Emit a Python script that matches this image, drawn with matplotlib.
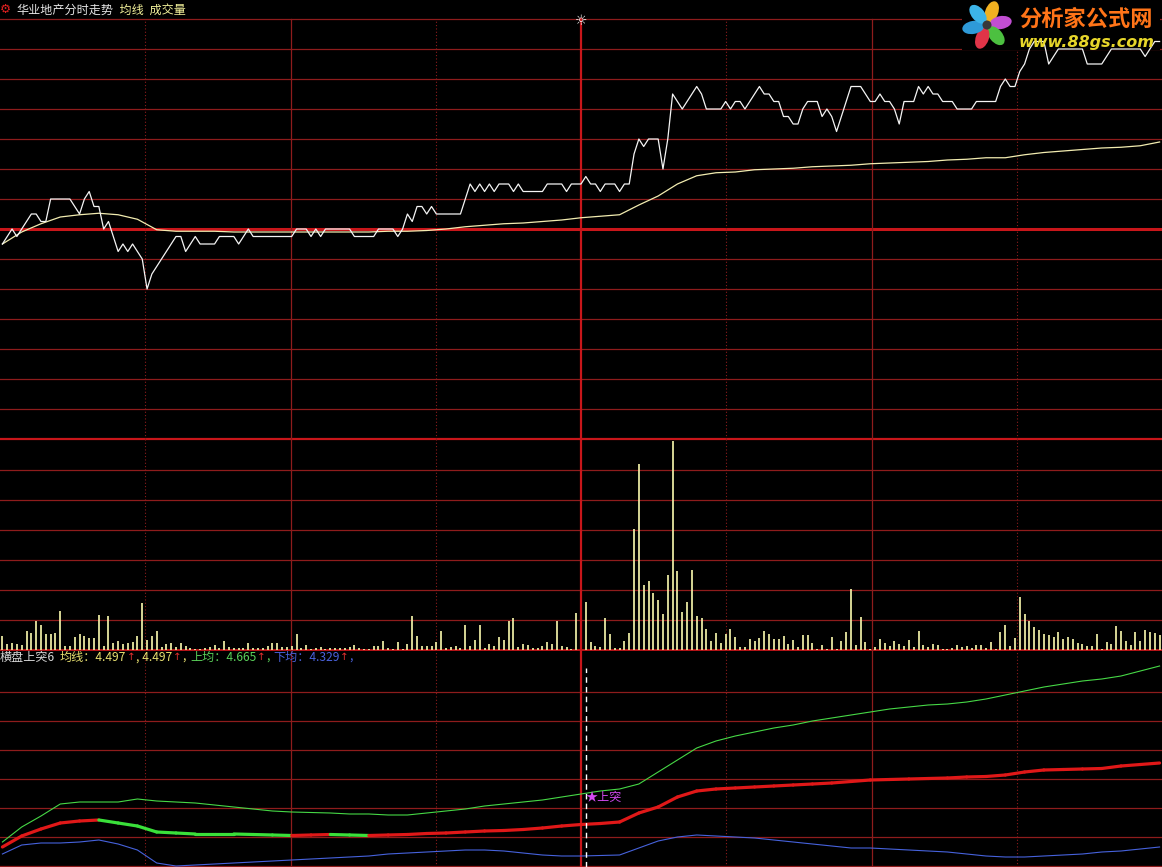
import matplotlib
matplotlib.use('Agg')
import matplotlib.pyplot as plt
from matplotlib.patches import Rectangle, Ellipse, Circle
from matplotlib.collections import LineCollection
import numpy as np

plt.rcParams['font.family'] = ['Noto Sans CJK SC', 'DejaVu Sans']

W, H = 1162, 867

# ---------------- data ----------------
stock_name = "华业地产"
prev_close = 4.38
price_lo, price_hi = 4.10, 4.66

price = [
    4.36, 4.37, 4.38, 4.37, 4.38, 4.39, 4.40, 4.40, 4.39, 4.39,
    4.42, 4.42, 4.42, 4.42, 4.42, 4.41, 4.40, 4.42, 4.43, 4.41,
    4.41, 4.38, 4.39, 4.37, 4.35, 4.36, 4.35, 4.36, 4.35, 4.34,
    4.30, 4.32, 4.33, 4.34, 4.35, 4.36, 4.37, 4.37, 4.35, 4.36,
    4.37, 4.36, 4.36, 4.36, 4.36, 4.37, 4.37, 4.37, 4.37, 4.36,
    4.37, 4.38, 4.37, 4.37, 4.37, 4.37, 4.37, 4.37, 4.37, 4.37,
    4.37, 4.38, 4.38, 4.38, 4.37, 4.38, 4.37, 4.38, 4.38, 4.38,
    4.38, 4.38, 4.38, 4.37, 4.37, 4.37, 4.37, 4.37, 4.38, 4.38,
    4.38, 4.38, 4.37, 4.38, 4.40, 4.39, 4.41, 4.41, 4.40, 4.41,
    4.40, 4.40, 4.40, 4.40, 4.40, 4.40, 4.42, 4.44, 4.43, 4.44,
    4.43, 4.44, 4.43, 4.44, 4.44, 4.44, 4.43, 4.44, 4.43, 4.43,
    4.43, 4.43, 4.43, 4.44, 4.44, 4.44, 4.44, 4.43, 4.44, 4.44,
    4.44, 4.45, 4.44, 4.44, 4.43, 4.44, 4.44, 4.44, 4.43, 4.44,
    4.44, 4.48, 4.50, 4.49, 4.50, 4.50, 4.50, 4.46, 4.50, 4.56,
    4.55, 4.54, 4.55, 4.56, 4.57, 4.56, 4.54, 4.54, 4.54, 4.54,
    4.55, 4.54, 4.55, 4.55, 4.54, 4.55, 4.56, 4.57, 4.56, 4.56,
    4.55, 4.55, 4.53, 4.53, 4.52, 4.52, 4.54, 4.55, 4.55, 4.55,
    4.53, 4.54, 4.53, 4.51, 4.53, 4.55, 4.57, 4.57, 4.57, 4.56,
    4.55, 4.55, 4.56, 4.55, 4.55, 4.54, 4.52, 4.55, 4.55, 4.55,
    4.57, 4.56, 4.57, 4.56, 4.56, 4.55, 4.55, 4.55, 4.54, 4.54,
    4.54, 4.54, 4.55, 4.55, 4.55, 4.55, 4.55, 4.57, 4.58, 4.57,
    4.57, 4.59, 4.60, 4.62, 4.63, 4.63, 4.63, 4.60, 4.61, 4.62,
    4.62, 4.62, 4.62, 4.62, 4.62, 4.60, 4.60, 4.60, 4.60, 4.61,
    4.62, 4.62, 4.62, 4.62, 4.62, 4.62, 4.62, 4.61, 4.62, 4.63,
    4.63,
]

avg_minutes = list(range(0, 241, 4))
avg_price = [
    4.360, 4.376, 4.387, 4.396, 4.399, 4.401, 4.399, 4.393, 4.379, 4.377,
    4.377, 4.377, 4.376, 4.376, 4.376, 4.376, 4.376, 4.376, 4.376, 4.376,
    4.377, 4.377, 4.378, 4.380, 4.383, 4.385, 4.387, 4.388, 4.390, 4.392,
    4.395, 4.397, 4.399, 4.412, 4.424, 4.440, 4.451, 4.455, 4.456, 4.459,
    4.460, 4.461, 4.463, 4.464, 4.465, 4.467, 4.468, 4.469, 4.470, 4.472,
    4.473, 4.475, 4.475, 4.479, 4.482, 4.484, 4.486, 4.488, 4.489, 4.491,
    4.496,
]

volume = [
    14, 6, 7, 6, 5, 19, 17, 29, 25, 16,
    16, 17, 39, 4, 4, 13, 16, 14, 12, 12,
    35, 4, 34, 7, 9, 6, 7, 8, 14, 47,
    10, 14, 19, 3, 6, 7, 3, 7, 4, 2,
    1, 1, 2, 3, 5, 2, 9, 3, 2, 2,
    2, 7, 2, 2, 2, 4, 7, 7, 3, 3,
    4, 16, 2, 5, 1, 2, 3, 1, 2, 2,
    2, 2, 3, 5, 2, 1, 1, 4, 4, 9,
    2, 1, 8, 1, 6, 34, 14, 4, 4, 4,
    8, 19, 2, 3, 4, 2, 25, 4, 10, 25,
    2, 6, 4, 13, 10, 29, 32, 3, 6, 5,
    2, 2, 4, 8, 6, 29, 4, 3, 1, 37,
    1, 48, 8, 4, 3, 32, 16, 2, 2, 9,
    17, 121, 186, 65, 69, 57, 50, 36, 75, 209,
    79, 38, 48, 80, 34, 32, 21, 9, 17, 7,
    16, 21, 13, 3, 3, 11, 9, 12, 19, 16,
    11, 11, 14, 6, 10, 3, 15, 15, 7, 1,
    5, 1, 13, 1, 9, 18, 61, 5, 33, 8,
    1, 3, 11, 7, 4, 9, 6, 4, 10, 3,
    19, 5, 3, 6, 5, 1, 1, 2, 5, 3,
    4, 2, 5, 5, 2, 8, 1, 18, 25, 4,
    12, 53, 36, 29, 23, 20, 16, 15, 13, 18,
    11, 13, 11, 7, 6, 4, 4, 16, 1, 8,
    6, 24, 19, 9, 5, 18, 9, 20, 18, 17,
    15,
]
volume_max = 211

lower_minutes = list(range(0, 241, 4))
upper_band = [
    4.339, 4.369, 4.391, 4.415, 4.419, 4.419, 4.419, 4.425, 4.421, 4.419,
    4.417, 4.413, 4.409, 4.405, 4.401, 4.399, 4.398, 4.397, 4.395, 4.395,
    4.393, 4.393, 4.397, 4.401, 4.405, 4.411, 4.415, 4.419, 4.423, 4.429,
    4.435, 4.441, 4.445, 4.455, 4.479, 4.503, 4.527, 4.541, 4.551, 4.559,
    4.567, 4.573, 4.581, 4.587, 4.593, 4.599, 4.605, 4.609, 4.613, 4.615,
    4.619, 4.625, 4.633, 4.641, 4.649, 4.655, 4.661, 4.665, 4.671, 4.681,
    4.691,
]
mid_line = [
    4.329, 4.351, 4.365, 4.377, 4.381, 4.383, 4.377, 4.371, 4.359, 4.357,
    4.355, 4.355, 4.355, 4.354, 4.353, 4.352, 4.353, 4.354, 4.353, 4.352,
    4.353, 4.354, 4.356, 4.357, 4.359, 4.361, 4.362, 4.364, 4.367, 4.371,
    4.374, 4.376, 4.379, 4.397, 4.409, 4.429, 4.441, 4.445, 4.447, 4.449,
    4.451, 4.453, 4.455, 4.457, 4.460, 4.463, 4.464, 4.465, 4.466, 4.467,
    4.469, 4.470, 4.473, 4.479, 4.483, 4.484, 4.485, 4.486, 4.491, 4.494,
    4.497,
]
lower_band = [
    4.315, 4.333, 4.337, 4.337, 4.339, 4.343, 4.335, 4.323, 4.297, 4.291,
    4.293, 4.295, 4.297, 4.299, 4.301, 4.303, 4.305, 4.307, 4.309, 4.311,
    4.315, 4.317, 4.319, 4.321, 4.323, 4.323, 4.321, 4.317, 4.313, 4.311,
    4.311, 4.312, 4.313, 4.327, 4.341, 4.349, 4.353, 4.351, 4.349, 4.347,
    4.343, 4.339, 4.335, 4.331, 4.327, 4.327, 4.325, 4.323, 4.321, 4.319,
    4.315, 4.311, 4.309, 4.309, 4.311, 4.313, 4.315, 4.319, 4.321, 4.325,
    4.329,
]
lower_lo, lower_hi = 4.289, 4.723
signal_idx = 121
signal_val = 4.427
label_values = ["4.497", "4.497", "4.665", "4.329"]

# ---------------- style ----------------
BG = 'black'
GRID = '#8e1c1c'
GRID_BRIGHT = '#c8161a'
WHITE = '#f4f4f4'
AVG = '#f2ecb0'
VOL = '#f2f0a8'
GREEN_THIN = '#46d846'
BLUE = '#4662dc'
RED_THICK = '#e01818'
GREEN_THICK = '#3ae03a'

fig = plt.figure(figsize=(W / 100, H / 100), dpi=100, facecolor=BG)


def px_axes(top, bottom):
    ax = fig.add_axes([0, 1 - bottom / H, 1, (bottom - top) / H])
    ax.set_facecolor(BG)
    ax.set_xlim(-0.5, 240.5)
    ax.set_axis_off()
    return ax


def vgrid(ax):
    for k in range(1, 8):
        f = k / 8
        if k == 4:
            ax.plot([f, f], [0, 1], transform=ax.transAxes, color=GRID_BRIGHT, lw=1.6, zorder=1, clip_on=False)
        elif k % 2 == 0:
            ax.plot([f, f], [0, 1], transform=ax.transAxes, color=GRID, lw=0.9, zorder=1, clip_on=False)
        else:
            ax.plot([f, f], [0, 1], transform=ax.transAxes, color=GRID, lw=0.8, ls=(0, (1, 2)), zorder=1, clip_on=False)


# ---- price panel ----
ax1 = px_axes(19, 439)
ax1.set_ylim(price_lo, price_hi)
for k in range(15):
    y = price_lo + 0.04 * k
    if k == 7:
        ax1.axhline(y, color=GRID_BRIGHT, lw=2.2, zorder=1, clip_on=False)
    elif k == 0:
        ax1.axhline(y, color=GRID_BRIGHT, lw=1.6, zorder=1, clip_on=False)
    else:
        ax1.axhline(y, color=GRID, lw=0.9, zorder=1, clip_on=False)
vgrid(ax1)
# black backing of logo (hides grid only)
ax1.add_patch(Rectangle((962 / W, 1 - 50 / H), 198 / W, 50 / H, transform=fig.transFigure,
                        facecolor=BG, edgecolor='none', zorder=1.5, clip_on=False))
ax1.plot(range(len(price)), price, color=WHITE, lw=0.9, zorder=3, clip_on=False)
ax1.plot(avg_minutes, avg_price, color=AVG, lw=0.9, zorder=2.5)

# ---- volume panel ----
ax2 = px_axes(439, 650)
ax2.set_ylim(0, volume_max)
for y in range(30, 181, 30):
    ax2.axhline(y, color=GRID, lw=0.9, zorder=1)
ax2.axhline(0, color=GRID_BRIGHT, lw=1.3, zorder=1, clip_on=False)
vgrid(ax2)
ax2.vlines(range(len(volume)), 0, volume, color=VOL, lw=1.25, zorder=3)

# ---- indicator panel ----
ax3 = px_axes(650, 867)
ax3.set_ylim(lower_lo, lower_hi)
for ypx in [692, 721, 750, 779, 808, 837, 866]:
    f = (867 - ypx) / 217
    ax3.plot([0, 1], [f, f], transform=ax3.transAxes, color=GRID, lw=0.9, zorder=1)
vgrid(ax3)
ax3.plot(lower_minutes, upper_band, color=GREEN_THIN, lw=0.8, zorder=3)
ax3.plot(lower_minutes, lower_band, color=BLUE, lw=0.8, zorder=3)
pts = np.column_stack([lower_minutes, mid_line])
segs, cols = [], []
cur = RED_THICK
for i in range(len(pts) - 1):
    if mid_line[i + 1] > mid_line[i]:
        cur = RED_THICK
    elif mid_line[i + 1] < mid_line[i]:
        cur = GREEN_THICK
    segs.append(pts[i:i + 2])
    cols.append(cur)
ax3.add_collection(LineCollection(segs, colors=cols, linewidths=2.3, zorder=3, capstyle='round'))
ax3.axvline(signal_idx, ymin=0, ymax=(867 - 668) / 217, color='white', lw=1.0, ls=(0, (4, 3)), zorder=4)
ax3.text(signal_idx, signal_val, '★上突', color='#d24af0', fontsize=8.7, va='center', ha='left', zorder=5)


# ---------------- texts ----------------
FS = 8.7
renderer = fig.canvas.get_renderer()


def ftext(x, y, s, **kw):
    return fig.text(x / W, 1 - y / H, s, va='center', ha='left', **kw)


def seq_text(x0, y, pieces):
    x = x0
    for s, c, kw in pieces:
        opts = dict(fontsize=FS)
        opts.update(kw)
        t = ftext(x, y, s, color=c, **opts)
        bb = t.get_window_extent(renderer=renderer)
        x = bb.x1 + 0.5
    return x


ftext(0, 9, '⚙', color='#e02020', fontsize=9, family='DejaVu Sans')
seq_text(16, 10, [(stock_name + '分时走势', '#e6e6e6', {}),
                  ('  均线', '#f2f09a', {}),
                  ('  成交量', '#f2f09a', {})])
fig.text(581 / W, 1 - 21 / H, '☼', color='white', fontsize=10, family='DejaVu Sans', ha='center', va='center')

YL = 657
YEL = '#e8e070'
RED_ARROW = '#e03030'
GREEN_TXT = '#5ad05a'
BLUE_TXT = '#4a62dc'
AR = {'family': 'DejaVu Sans', 'fontsize': 7.5}
seq_text(0, YL, [('横盘上突6', '#d8d8d8', {})])
seq_text(60, YL, [('均线：' + label_values[0], YEL, {}), ('↑', RED_ARROW, AR),
                  (', ' + label_values[1], YEL, {}), ('↑', RED_ARROW, AR), (',', YEL, {})])
seq_text(190, YL, [('上均：' + label_values[2], GREEN_TXT, {}), ('↑', RED_ARROW, AR), (',', GREEN_TXT, {})])
seq_text(273, YL, [('下均：' + label_values[3], BLUE_TXT, {}), ('↑', RED_ARROW, AR), (',', BLUE_TXT, {})])

# ---------------- logo ----------------
axl = fig.add_axes([0, 0, 1, 1], zorder=10)
axl.set_xlim(0, W)
axl.set_ylim(H, 0)
axl.set_axis_off()
axl.patch.set_alpha(0)
cx, cy = 987, 25
petal_cols = ['#f0b020', '#c24ed2', '#4cc040', '#e03448', '#2e9ad8', '#3cb4e8']
for j, c in enumerate(petal_cols):
    a = np.deg2rad(-70 + 60 * j)
    axl.add_patch(Ellipse((cx + 14 * np.cos(a), cy + 14 * np.sin(a)), 22, 13,
                          angle=np.rad2deg(a), facecolor=c, edgecolor='none'))
axl.add_patch(Circle((cx, cy), 4.5, facecolor='#383838', edgecolor='none'))
axl.text(1019, 19, '分析家公式网', color='#ff7418', fontsize=16, fontweight='bold', va='center', ha='left')
axl.text(1019, 43, 'www.88gs.com', color='#e6d62a', fontsize=11.5, fontweight='bold', style='italic',
         va='center', ha='left', family='DejaVu Sans')

fig.savefig('out.png', dpi=100, facecolor=BG)
